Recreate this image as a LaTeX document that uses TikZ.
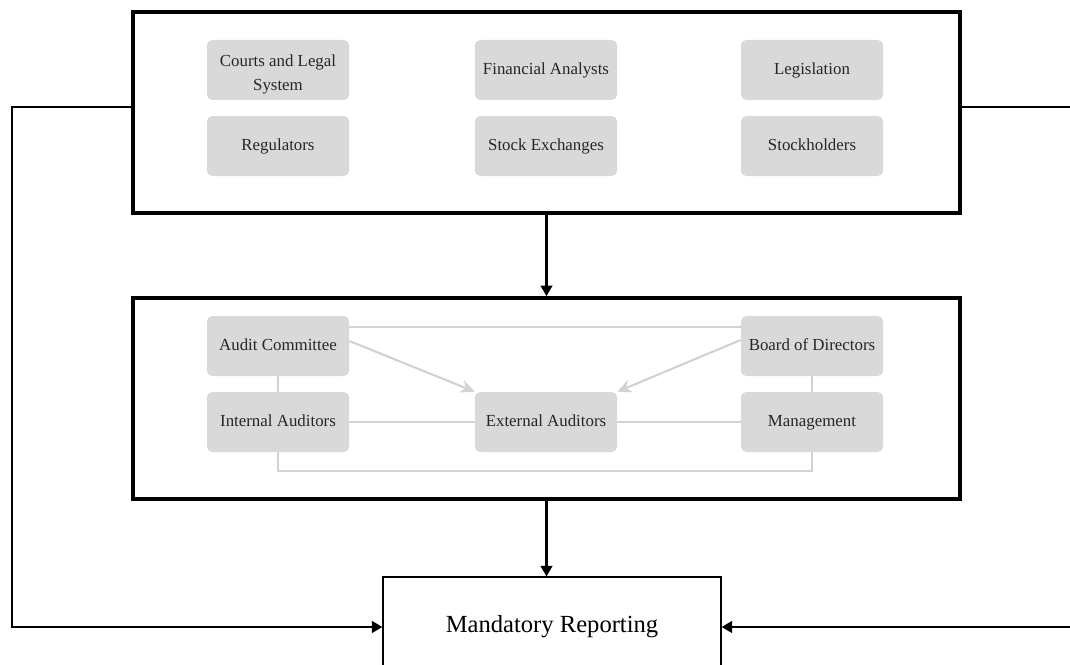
\documentclass[tikz,border=0pt]{standalone}
\usepackage{fontspec}
\setmainfont{Liberation Serif}
\usetikzlibrary{positioning,arrows.meta}

\begin{document}
\begin{tikzpicture}[
        frame/.style = {draw, line width=2.1pt, minimum width=16.54cm, minimum height=4.02cm, inner sep=0pt},
        actor/.style = {fill=gray!30, rounded corners=3pt, minimum width=2.84cm, minimum height=1.2cm, inner ysep=1pt, align=center, font=\fontsize{9.6}{13.4}\selectfont, text=black!85, execute at begin node=\strut, execute at end node=\strut},
        link/.style = {draw=gray!35, line width=1.2pt},
        flow/.style = {line width=1.6pt, -{Triangle[length=6pt, width=6.5pt]}}
    ]
                \useasboundingbox (0,0) rectangle (21.4,-13.28);

                % outer frames
                \node[frame] at (10.93,-2.25) (env) {};
                \node[frame] at (10.93,-7.97) (gov) {};
                \node[draw, line width=0.6pt, minimum width=6.76cm, minimum height=2cm, font=\fontsize{14}{16}\selectfont] at (11.04,-12.54) (MR) {Mandatory Reporting};

                % environment
                \node[actor] at (5.56,-1.4) (CLS) {\rule{0pt}{14pt}Courts and Legal\\ System};
                \node[actor] at (10.92,-1.4) (FA) {Financial Analysts};
                \node[actor] at (16.24,-1.4) (Leg) {Legislation};
                \node[actor] at (5.56,-2.92) (Reg) {Regulators};
                \node[actor] at (10.92,-2.92) (SE) {Stock Exchanges};
                \node[actor] at (16.24,-2.92) (SH) {Stockholders};

                % governance
                \node[actor] at (5.56,-6.92) (AC) {Audit Committee};
                \node[actor] at (16.24,-6.92) (BD) {Board of Directors};
                \node[actor] at (5.56,-8.44) (IA) {Internal Auditors};
                \node[actor] at (10.92,-8.44) (EA) {External Auditors};
                \node[actor] at (16.24,-8.44) (MG) {Management};

                \draw [link] ([yshift=0.38cm]AC.east) -- ([yshift=0.38cm]BD.west);
                \draw [link, -{Stealth[length=8pt, width=7.5pt]}] ([yshift=0.1cm]AC.east) -- (EA.north west);
                \draw [link, -{Stealth[length=8pt, width=7.5pt]}] ([yshift=0.12cm]BD.west) -- (EA.north east);
                \draw [link] (AC) -- (IA);
                \draw [link] (BD) -- (MG);
                \draw [link] (IA) -- (EA);
                \draw [link] (EA) -- (MG);
                \draw [link] (IA.south) -- ++(0,-0.38) -| (MG.south);

                \draw [flow] (env.south) -- (gov.north);
                \draw [flow] (gov.south) -- (gov.south |- MR.north);
                \draw [flow] ([yshift=0.11cm]env.west) -| (0.24,-12.54) -- (MR.west);
                \draw [flow] ([yshift=0.11cm]env.east) -| (21.55,-12.54) -- (MR.east);
            \end{tikzpicture}
\end{document}
